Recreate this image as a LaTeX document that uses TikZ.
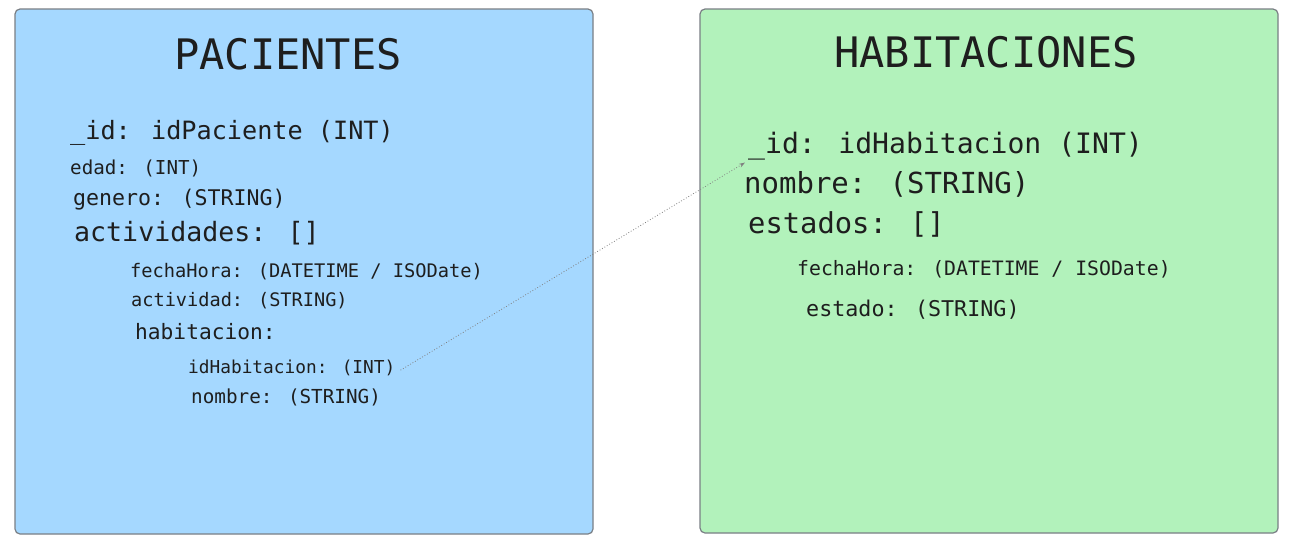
\documentclass[tikz,border=0pt]{standalone}
\usepackage{fontspec}
\setmainfont{DejaVu Sans Mono}
\usetikzlibrary{arrows.meta}
\definecolor{bluefill}{HTML}{A5D8FF}
\definecolor{greenfill}{HTML}{B2F2BB}
\definecolor{edge}{HTML}{7A7F85}
\definecolor{ink}{HTML}{1E1E1E}
\newcommand{\fs}[1]{\fontsize{#1}{#1}\selectfont}
\tikzset{
  entity/.style={draw=edge, line width=1.2pt, rounded corners=5pt},
  field/.style={anchor=mid west, inner sep=0pt, text=ink},
  title/.style={anchor=mid, inner sep=0pt, text=ink, font=\fs{42}},
  link/.style={draw=gray, line width=0.8pt, dotted, -{Stealth[length=6pt,width=4pt]}}
}
\begin{document}
\begin{tikzpicture}[x=1pt,y=-1pt]
\useasboundingbox (0,0) rectangle (1290,547);
\fill[white] (0,0) rectangle (1290,547);
% boxes
\draw[entity, fill=bluefill] (15,9) rectangle (593,534);
\draw[entity, fill=greenfill] (700,9) rectangle (1278,533);
% left box
\node[title] (pt) at (288,67) {PACIENTES};
\node[field, font=\fs{25.2}] (pid) at (70,137) {\_id: idPaciente (INT)};
\node[field, font=\fs{19.2}] (ped) at (70,172) {edad: (INT)};
\node[field, font=\fs{21.6}] (pge) at (73,203) {genero: (STRING)};
\node[field, font=\fs{26.6}] (pac) at (74,239) {actividades: []};
\node[field, font=\fs{18.7}] (pfh) at (130,275) {fechaHora: (DATETIME / ISODate)};
\node[field, font=\fs{18.6}] (pat) at (131,304) {actividad: (STRING)};
\node[field, font=\fs{21.2}] (pha) at (135,337) {habitacion:};
\node[field, font=\fs{17.8}] (idh) at (188,371) {idHabitacion: (INT)};
\node[field, font=\fs{19.3}] (pno) at (191,401) {nombre: (STRING)};
% right box
\node[title] (ht) at (986,65) {HABITACIONES};
\node[field, font=\fs{28.1}] (rid) at (748,151) {\_id: idHabitacion (INT)};
\node[field, font=\fs{29}] (rno) at (744,191) {nombre: (STRING)};
\node[field, font=\fs{28.8}] (res) at (748,231) {estados: []};
\node[field, font=\fs{19.8}] (rfh) at (797,273) {fechaHora: (DATETIME / ISODate)};
\node[field, font=\fs{21.7}] (ret) at (806,314) {estado: (STRING)};
% connector
\draw[link] ([shift={(5,2)}]idh.east) -- ([shift={(-3,2)}]rid.south west);
\end{tikzpicture}
\end{document}
